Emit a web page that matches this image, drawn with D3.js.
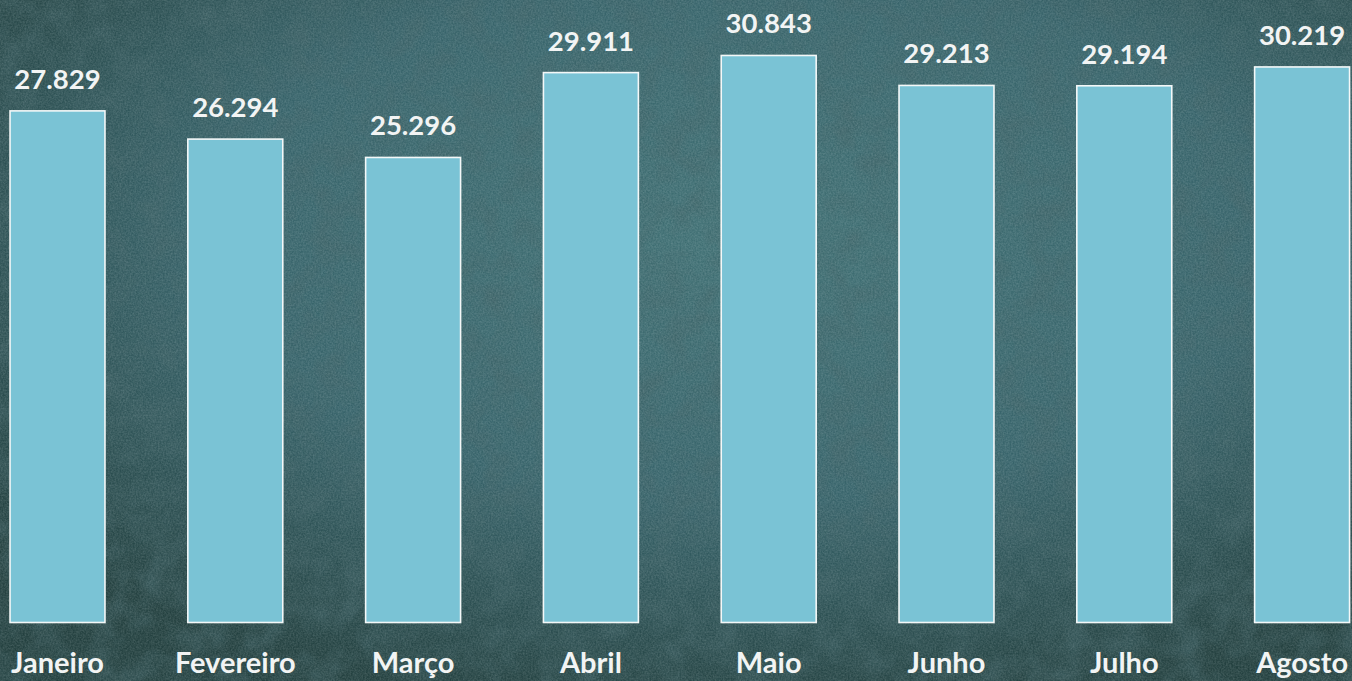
<!DOCTYPE html>
<html>
<head>
<meta charset="utf-8">
<script src="https://cdn.jsdelivr.net/npm/d3@7"></script>
<style>
  html, body { margin: 0; padding: 0; background: #2a4a4e; overflow: hidden; }
  svg { display: block; }
</style>
</head>
<body>
<svg id="chart" width="1352" height="681"></svg>
<script>
// monthly values
var months = ["Janeiro", "Fevereiro", "Março", "Abril", "Maio", "Junho", "Julho", "Agosto"];
var values = [27.829, 26.294, 25.296, 29.911, 30.843, 29.213, 29.194, 30.219];
var valueLabels = ["27.829", "26.294", "25.296", "29.911", "30.843", "29.213", "29.194", "30.219"];

var svg = d3.select("#chart"),
	width = +svg.attr("width"),
	height = +svg.attr("height");

// chalkboard background
var defs = svg.append("defs");
var grad = defs.append("radialGradient")
	.attr("id", "board")
	.attr("cx", "55%").attr("cy", "35%").attr("r", "70%");
grad.append("stop").attr("offset", "0%").attr("stop-color", "#407074");
grad.append("stop").attr("offset", "55%").attr("stop-color", "#37636a");
grad.append("stop").attr("offset", "100%").attr("stop-color", "#23403f");

// coarse mottling
var mottle = defs.append("filter").attr("id", "mottle")
	.attr("x", 0).attr("y", 0).attr("width", "100%").attr("height", "100%");
mottle.append("feTurbulence")
	.attr("type", "fractalNoise")
	.attr("baseFrequency", "0.035")
	.attr("numOctaves", 3)
	.attr("seed", 7)
	.attr("result", "n");
mottle.append("feColorMatrix")
	.attr("in", "n")
	.attr("type", "matrix")
	.attr("values", "0 0 0 0 0.05  0 0 0 0 0.12  0 0 0 0 0.13  1.2 0 0 0 -0.45");

// fine chalk grain
var noise = defs.append("filter").attr("id", "chalk")
	.attr("x", 0).attr("y", 0).attr("width", "100%").attr("height", "100%");
noise.append("feTurbulence")
	.attr("type", "fractalNoise")
	.attr("baseFrequency", "0.6")
	.attr("numOctaves", 2)
	.attr("seed", 3)
	.attr("result", "n");
noise.append("feColorMatrix")
	.attr("in", "n")
	.attr("type", "matrix")
	.attr("values", "0 0 0 0 0.85  0 0 0 0 0.95  0 0 0 0 0.95  0.25 0 0 0 -0.06");

svg.append("rect").attr("width", width).attr("height", height).attr("fill", "url(#board)");
svg.append("rect").attr("width", width).attr("height", height).attr("filter", "url(#mottle)");
svg.append("rect").attr("width", width).attr("height", height).attr("filter", "url(#chalk)");

// scales
var x = d3.scaleBand()
	.domain(months)
	.range([-31.4, 1391])
	.paddingInner(0.466)
	.paddingOuter(0.233);

var y = d3.scaleLinear()
	.domain([0, 33.86])
	.range([622.5, 0]);

var g = svg.append("g");

g.selectAll(".bar")
	.data(values)
	.enter().append("rect")
	.attr("class", "bar")
	.attr("x", function(d, i) { return x(months[i]); })
	.attr("y", function(d) { return y(d); })
	.attr("width", x.bandwidth())
	.attr("height", function(d) { return y(0) - y(d); })
	.attr("fill", "#7ac3d5")
	.attr("stroke", "#f4f8f8")
	.attr("stroke-width", 1.6);

g.selectAll(".value")
	.data(values)
	.enter().append("text")
	.attr("class", "value")
	.attr("x", function(d, i) { return x(months[i]) + x.bandwidth() / 2; })
	.attr("y", function(d) { return y(d) - 22; })
	.attr("text-anchor", "middle")
	.style("font", "bold 27.5px Lato, 'Open Sans', sans-serif")
	.style("fill", "#f2f4f4")
	.text(function(d, i) { return valueLabels[i]; });

// category axis (no line, no ticks)
var xAxis = g.append("g")
	.attr("transform", "translate(0," + 622.5 + ")")
	.call(d3.axisBottom(x).tickSize(0).tickPadding(0));
xAxis.select(".domain").remove();
xAxis.selectAll("text")
	.attr("y", 50)
	.attr("dy", 0)
	.style("font", "bold 29px Lato, 'Open Sans', sans-serif")
	.style("fill", "#f2f4f4");
</script>
</body>
</html>
